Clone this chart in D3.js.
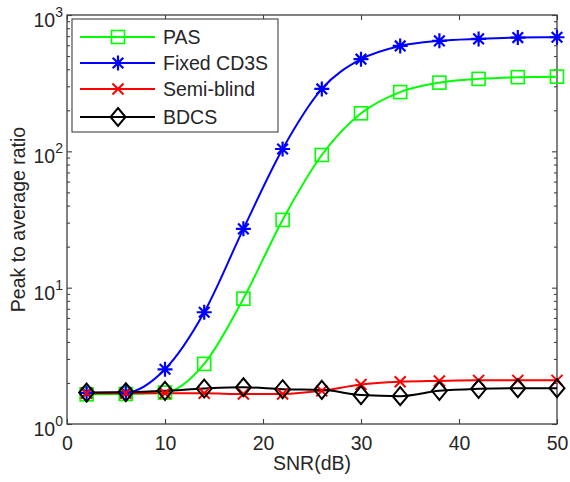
<!DOCTYPE html>
<html><head><meta charset="utf-8">
<script src="https://cdn.jsdelivr.net/npm/d3@7"></script>
<style>body{margin:0;background:#fff}svg{display:block}text{font-family:"Liberation Sans",Arial,sans-serif;fill:#262626}</style>
</head><body><svg id="c" width="570" height="482"></svg>
<script>
const snr = [2,6,10,14,18,22,26,30,34,38,42,46,50];
const pas = [1.65,1.66,1.7,2.76,8.3,31.4,94,190,272,319,340,350,353];
const fixedCD3S = [1.69,1.7,2.52,6.6,27,104,287,474,593,646,668,683,687];
const semiBlind = [1.68,1.68,1.68,1.68,1.66,1.66,1.75,1.95,2.04,2.07,2.09,2.09,2.09];
const bdcs = [1.70,1.71,1.75,1.82,1.86,1.80,1.78,1.63,1.60,1.75,1.81,1.83,1.83];
const seriesNames = ["PAS","Fixed CD3S","Semi-blind","BDCS"];
const xTicks = [0,10,20,30,40,50];
const yTicks = [1,10,100,1000];

const svg = d3.select("#c");
const L=67,R=557,T=15,B=424;
const x = d3.scaleLinear().domain([0,50]).range([L,R]);
const y = d3.scaleLog().domain([1,1000]).range([B,T]);
const axisCol="#404040";

const series = [
 {name:seriesNames[0], vals:pas, color:"#00ff00", marker:"square"},
 {name:seriesNames[1], vals:fixedCD3S, color:"#0000ff", marker:"star"},
 {name:seriesNames[2], vals:semiBlind, color:"#ff0000", marker:"x"},
 {name:seriesNames[3], vals:bdcs, color:"#000000", marker:"diamond"}
];

svg.append("rect").attr("x",L).attr("y",T).attr("width",R-L).attr("height",B-T).attr("fill","none").attr("stroke",axisCol).attr("stroke-width",1.3);

const xa = svg.append("g").attr("transform",`translate(0,${B})`).call(d3.axisBottom(x).tickValues(xTicks).tickSize(-5).tickPadding(0).tickFormat(d3.format("d")));
const xt = svg.append("g").attr("transform",`translate(0,${T})`).call(d3.axisTop(x).tickValues(xTicks).tickSize(-5).tickFormat(""));
const minor=[];
for(let e=0;e<3;e++) for(let m=2;m<=9;m++) minor.push(m*Math.pow(10,e));
const ya = svg.append("g").attr("transform",`translate(${L},0)`).call(d3.axisLeft(y).tickValues(yTicks).tickSize(-5).tickFormat(""));
const yr = svg.append("g").attr("transform",`translate(${R},0)`).call(d3.axisRight(y).tickValues(yTicks).tickSize(-5).tickFormat(""));
const yam = svg.append("g").attr("transform",`translate(${L},0)`).call(d3.axisLeft(y).tickValues(minor).tickSize(-3).tickFormat(""));
const yrm = svg.append("g").attr("transform",`translate(${R},0)`).call(d3.axisRight(y).tickValues(minor).tickSize(-3).tickFormat(""));
[xa,xt,ya,yr,yam,yrm].forEach(g=>{g.select(".domain").remove();g.selectAll("line").attr("stroke",axisCol).attr("stroke-width",1.1);});
xa.attr("font-size",null).attr("font-family",null);
xa.selectAll("text").style("font-size","19.5px").attr("dy",null).attr("y",26);

yTicks.forEach(v=>{
  const e=Math.round(Math.log10(v));
  const t=svg.append("text").attr("x",L-4).attr("y",y(v)+12).attr("text-anchor","end").style("font-size","19.5px");
  t.append("tspan").text("10");
  t.append("tspan").attr("dy",-10).style("font-size","14px").text(e);
});

svg.append("text").attr("x",(L+R)/2).attr("y",470).attr("text-anchor","middle").style("font-size","19.5px").text("SNR(dB)");
svg.append("text").attr("transform",`translate(25,${(T+B)/2}) rotate(-90)`).attr("text-anchor","middle").style("font-size","19.5px").text("Peak to average ratio");

function drawMarker(g,type,cx,cy,color){
  if(type==="square") g.append("rect").attr("x",cx-6.5).attr("y",cy-6.5).attr("width",13).attr("height",13).attr("fill","none").attr("stroke",color).attr("stroke-width",1.6);
  else if(type==="diamond") g.append("path").attr("d",`M${cx},${cy-9}L${cx+7.5},${cy}L${cx},${cy+9}L${cx-7.5},${cy}Z`).attr("fill","none").attr("stroke",color).attr("stroke-width",2);
  else if(type==="x") { const s=5.5; g.append("path").attr("d",`M${cx-s},${cy-s}L${cx+s},${cy+s}M${cx-s},${cy+s}L${cx+s},${cy-s}`).attr("stroke",color).attr("stroke-width",2); }
  else if(type==="star"){ const s=7.5,d=5.3; g.append("path").attr("d",`M${cx},${cy-s}L${cx},${cy+s}M${cx-s},${cy}L${cx+s},${cy}M${cx-d},${cy-d}L${cx+d},${cy+d}M${cx-d},${cy+d}L${cx+d},${cy-d}`).attr("stroke",color).attr("stroke-width",2.2); }
}

const line = d3.line().x((d,i)=>x(snr[i])).y(d=>y(d)).curve(d3.curveMonotoneX);
const plot = svg.append("g");
series.forEach(s=>{
  plot.append("path").attr("d",line(s.vals)).attr("fill","none").attr("stroke",s.color).attr("stroke-width",2);
});
series.forEach(s=>{
  const g=plot.append("g");
  s.vals.forEach((v,i)=>drawMarker(g,s.marker,x(snr[i]),y(v),s.color));
});

const lg = svg.append("g");
lg.append("rect").attr("x",72).attr("y",19).attr("width",206).attr("height",113).attr("fill","#fff").attr("stroke",axisCol).attr("stroke-width",1.1);
const ly=[37,63,89,117];
series.forEach((s,i)=>{
  lg.append("line").attr("x1",80).attr("x2",155).attr("y1",ly[i]).attr("y2",ly[i]).attr("stroke",s.color).attr("stroke-width",2);
  drawMarker(lg,s.marker,118,ly[i],s.color);
  lg.append("text").attr("x",163).attr("y",ly[i]+7).style("font-size","19.5px").text(s.name);
});
</script></body></html>
